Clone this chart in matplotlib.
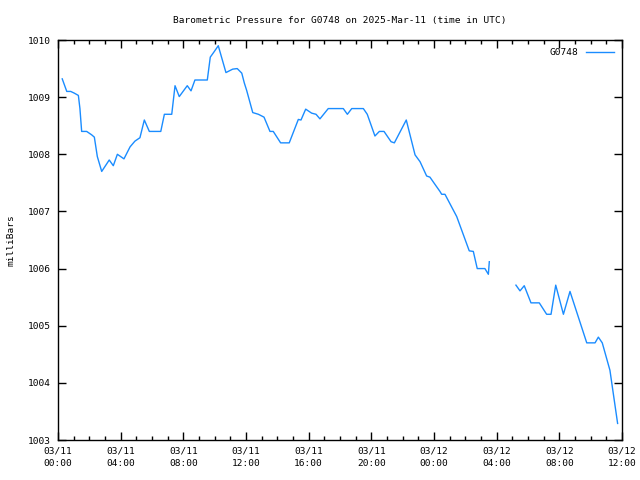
import numpy as np
import matplotlib
matplotlib.use('Agg')
import matplotlib.pyplot as plt
from matplotlib.ticker import FixedLocator, MultipleLocator

# hours since 2025-03-11 00:00 UTC, pressure in mbar (nan = data gap)
hours = [0.27, 0.56, 0.81, 1.04, 1.30, 1.40, 1.51, 1.83, 2.15, 2.32, 2.51, 2.79,
         3.27, 3.53, 3.79, 4.00, 4.21, 4.60, 4.91, 5.23, 5.51, 5.83, 6.56, 6.79,
         7.26, 7.47, 7.74, 8.25, 8.49, 8.74, 9.53, 9.72, 9.98, 10.23, 10.72, 11.15,
         11.44, 11.73, 11.89, 12.04, 12.43, 12.79, 13.15, 13.53, 13.74, 14.21, 14.76,
         15.34, 15.51, 15.81, 16.19, 16.47, 16.72, 17.25, 18.21, 18.47, 18.75, 19.49,
         19.74, 20.23, 20.51, 20.81, 21.26, 21.47, 22.23, 22.79, 23.11, 23.53, 23.74,
         24.02, 24.38, 24.49, 24.70, 25.45, 26.25, 26.51, 26.76, 27.25, 27.47, 27.53,
         28.4,
         29.23, 29.49, 29.76, 30.19, 30.72, 31.19, 31.47, 31.77, 32.26, 32.68, 33.75,
         34.28, 34.49, 34.74, 35.23, 35.72]
pressure = [1009.32, 1009.1, 1009.1, 1009.07, 1009.03, 1008.8, 1008.4, 1008.4, 1008.34,
            1008.3, 1007.96, 1007.7, 1007.9, 1007.8, 1008.0, 1007.96, 1007.92, 1008.13,
            1008.23, 1008.29, 1008.6, 1008.4, 1008.4, 1008.7, 1008.7, 1009.2, 1009.01,
            1009.2, 1009.11, 1009.3, 1009.3, 1009.7, 1009.8, 1009.9, 1009.43, 1009.49,
            1009.5, 1009.42, 1009.25, 1009.12, 1008.73, 1008.7, 1008.65, 1008.4, 1008.4,
            1008.2, 1008.2, 1008.61, 1008.6, 1008.79, 1008.72, 1008.7, 1008.62, 1008.8,
            1008.8, 1008.7, 1008.8, 1008.8, 1008.7, 1008.32, 1008.4, 1008.4, 1008.22,
            1008.2, 1008.6, 1007.99, 1007.87, 1007.62, 1007.6, 1007.49, 1007.35, 1007.3,
            1007.3, 1006.91, 1006.31, 1006.3, 1006.0, 1006.0, 1005.9, 1006.12,
            np.nan,
            1005.71, 1005.61, 1005.7, 1005.4, 1005.4, 1005.2, 1005.2, 1005.71, 1005.2,
            1005.6, 1004.7, 1004.7, 1004.8, 1004.7, 1004.22, 1003.29]

xtick_hours = [0, 4, 8, 12, 16, 20, 24, 28, 32, 36]
xtick_labels = ['03/11\n00:00', '03/11\n04:00', '03/11\n08:00', '03/11\n12:00',
                '03/11\n16:00', '03/11\n20:00', '03/12\n00:00', '03/12\n04:00',
                '03/12\n08:00', '03/12\n12:00']
yticks = [1003, 1004, 1005, 1006, 1007, 1008, 1009, 1010]

plt.rcParams['font.family'] = ['DejaVu Sans Mono']
plt.rcParams['font.size'] = 6.8

fig = plt.figure(figsize=(6.4, 4.8), dpi=100)
ax = fig.add_axes([58 / 640, 40 / 480, 564 / 640, 400 / 480])

ax.plot(hours, pressure, color='#1a8cff', lw=1, label='G0748')

ax.set_xlim(0, 36)
ax.set_ylim(1003, 1010)
ax.xaxis.set_major_locator(FixedLocator(xtick_hours))
ax.set_xticklabels(xtick_labels, linespacing=1.5)
ax.xaxis.set_minor_locator(MultipleLocator(1))
ax.set_yticks(yticks)

ax.tick_params(which='both', direction='in', top=True, right=True, width=1)
ax.tick_params(which='major', length=6, pad=5)
ax.tick_params(which='minor', length=3)
for s in ax.spines.values():
    s.set_linewidth(1)

ax.set_title('Barometric Pressure for G0748 on 2025-Mar-11 (time in UTC)',
             fontsize=6.8, pad=12)
ax.set_ylabel('milliBars')
ax.yaxis.set_label_coords(-0.076, 0.5)

ax.legend(loc='upper right', frameon=False, markerfirst=False, handlelength=2.9,
          borderaxespad=0.5, fontsize=6.8)

fig.savefig('out.png', dpi=100)
